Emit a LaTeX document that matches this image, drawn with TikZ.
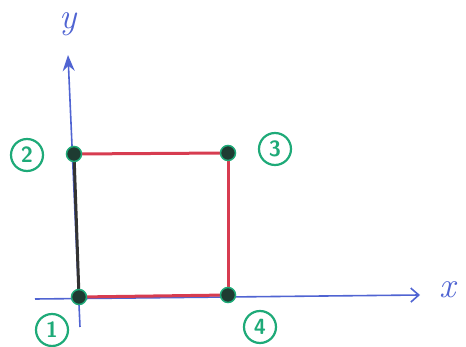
\documentclass[tikz,border=0pt]{standalone}
\usetikzlibrary{arrows.meta}
\definecolor{axisblue}{RGB}{80,100,210}
\definecolor{lblgreen}{RGB}{30,170,120}
\definecolor{edgered}{RGB}{215,60,80}
\definecolor{dotdark}{RGB}{30,60,50}
\begin{document}
\begin{tikzpicture}[x=1pt,y=-1pt,
  axis/.style={draw=axisblue,line width=1.6pt},
  edge/.style={line width=3pt,line cap=round},
  corner/.style={circle,fill=dotdark,draw=lblgreen,line width=1.5pt,minimum size=15pt,inner sep=0pt},
  numlabel/.style={circle,draw=lblgreen,line width=2.2pt,text=lblgreen,minimum size=32pt,inner sep=0pt,font=\sffamily\bfseries\fontsize{22}{22}\selectfont},
  axlabel/.style={text=axisblue,font=\itshape\fontsize{36}{36}\selectfont}]
\useasboundingbox (0,0) rectangle (466,347);
% axes
\coordinate (xs) at (35,299);
\coordinate (xe) at (420,295);
\coordinate (ys) at (80,327);
\coordinate (ye) at (68,55);
\draw[axis,-{Straight Barb[length=8pt,width=14pt]}] (xs) -- (xe);
\draw[axis,-{Stealth[length=16pt,width=12pt]}] (ys) -- (ye);
\node[axlabel] (ylab) at (68,24) {y};
\node[axlabel] (xlab) at (448,290) {x};
% corners
\coordinate (c1) at (79,297);
\coordinate (c2) at (74,154);
\coordinate (c3) at (228,153);
\coordinate (c4) at (228,295);
\draw[edge,draw=black!80] (c1) -- (c2);
\draw[edge,draw=edgered] (c2) -- (c3);
\draw[edge,draw=edgered] (c3) -- (c4);
\draw[edge,draw=edgered] (c4) -- (c1);
\node[corner] (n1) at (c1) {};
\node[corner] (n2) at (c2) {};
\node[corner] (n3) at (c3) {};
\node[corner] (n4) at (c4) {};
% labels
\node[numlabel] (l1) at (52,330) {1};
\node[numlabel] (l2) at (27,155) {2};
\node[numlabel] (l3) at (275,149) {3};
\node[numlabel] (l4) at (260,327) {4};
\end{tikzpicture}
\end{document}
